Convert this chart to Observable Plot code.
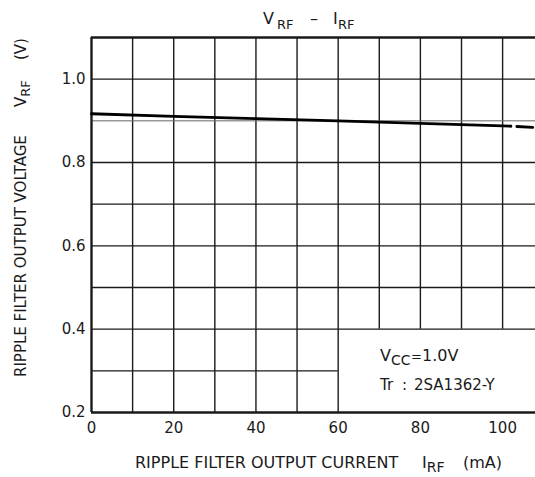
<!DOCTYPE html>
<html><head><meta charset="utf-8">
<script src="https://cdn.jsdelivr.net/npm/d3@7"></script>
<script src="https://cdn.jsdelivr.net/npm/@observablehq/plot@0.6"></script>
<style>
body{margin:0;background:#fff;}
svg{display:block;}
</style>
</head><body><div id="chart"></div>
<script>
// Measured curve (solid part)
const currents = [0, 20, 40, 60, 80, 100, 102];
const voltages = [0.917, 0.9105, 0.9055, 0.900, 0.894, 0.888, 0.8872];
// Extrapolated (dashed) part
const dashCurrents = [102, 108];
const dashVoltages = [0.8872, 0.884];

const xTicks = [0, 20, 40, 60, 80, 100];
const yTicks = [0.2, 0.4, 0.6, 0.8, 1.0];
const xGridFull = [10, 20, 30, 40, 50, 60];
const xGridShort = [70, 80, 90, 100];
const yGridFull = [0.4, 0.5, 0.6, 0.7, 0.8, 1.0];
const yGridLight = [0.9];
const yGridShort = [0.3];

const xMin = 0, xMax = 108, yMin = 0.2, yMax = 1.1, legendTop = 0.4, legendLeft = 60;

const solid = currents.map((c, i) => ({c, v: voltages[i]}));
const dashed = dashCurrents.map((c, i) => ({c, v: dashVoltages[i]}));

const ink = "#1a1a1a";
const font = "'DejaVu Sans', sans-serif";

const svg = Plot.plot({
  width: 535,
  height: 477,
  marginLeft: 91,
  marginRight: 0,
  marginTop: 37,
  marginBottom: 65,
  style: {fontFamily: font, fontSize: "15px", color: ink, background: "#fff"},
  x: {domain: [xMin, xMax], ticks: xTicks, tickSize: 0, tickPadding: 10, label: null},
  y: {domain: [yMin, yMax], ticks: yTicks, tickSize: 0, tickPadding: 6, tickFormat: d3.format(".1f"), label: null},
  marks: [
    Plot.ruleX(xGridFull, {y1: yMin, y2: yMax, stroke: ink, strokeWidth: 1.4}),
    Plot.ruleX(xGridShort, {y1: legendTop, y2: yMax, stroke: ink, strokeWidth: 1.4}),
    Plot.ruleY(yGridFull, {x1: xMin, x2: xMax, stroke: ink, strokeWidth: 1.4}),
    Plot.ruleY(yGridLight, {x1: xMin, x2: xMax, stroke: "#666", strokeWidth: 1}),
    Plot.ruleY(yGridShort, {x1: xMin, x2: legendLeft, stroke: ink, strokeWidth: 1.4}),
    Plot.ruleX([xMin], {y1: yMin, y2: yMax, stroke: ink, strokeWidth: 2.4}),
    Plot.ruleY([yMin, yMax], {x1: xMin, x2: xMax, stroke: ink, strokeWidth: 2.4}),
    Plot.line(solid, {x: "c", y: "v", stroke: "#000", strokeWidth: 2.8}),
    Plot.line(dashed, {x: "c", y: "v", stroke: "#000", strokeWidth: 2.8, strokeDasharray: "0 6 16 40"})
  ]
});

document.getElementById("chart").appendChild(svg);

const s = d3.select(svg);
function label(parent, attrs) {
  const t = parent.append("text").attr("font-family", font).attr("fill", ink)
    .attr("text-anchor", "start").style("white-space", "pre");
  for (const k in attrs) t.attr(k, attrs[k]);
  return t;
}
// Title
const t = label(s, {y: 24, "font-size": 16});
t.append("tspan").attr("x", 263).text("V");
t.append("tspan").attr("x", 277).attr("dy", 5).attr("font-size", 13).text("RF");
t.append("tspan").attr("x", 310).attr("dy", -5).text("–");
t.append("tspan").attr("x", 333).text("I");
t.append("tspan").attr("x", 338).attr("dy", 5).attr("font-size", 13).text("RF");

// Y label (rotated)
const yl = label(s, {transform: "translate(26,377) rotate(-90)", "font-size": 15});
yl.append("tspan").attr("x", 0).text("RIPPLE FILTER OUTPUT VOLTAGE");
yl.append("tspan").attr("x", 270).text("V");
yl.append("tspan").attr("dy", 4).attr("font-size", 13).text("RF");
yl.append("tspan").attr("x", 317).attr("dy", -4).text("(V)");

// X label
const xl = label(s, {y: 468, "font-size": 16});
xl.append("tspan").attr("x", 135).text("RIPPLE FILTER OUTPUT CURRENT");
xl.append("tspan").attr("x", 422).text("I");
xl.append("tspan").attr("dy", 4).attr("font-size", 14).text("RF");
xl.append("tspan").attr("x", 463).attr("dy", -4).text("(mA)");

// Conditions
const l1 = label(s, {y: 361, "font-size": 16});
l1.append("tspan").attr("x", 380).text("V");
l1.append("tspan").attr("dy", 4).attr("font-size", 14).text("CC");
l1.append("tspan").attr("x", 411).attr("dy", -4).attr("font-size", 13).text("=");
l1.append("tspan").attr("x", 422).attr("font-size", 16).text("1.0V");
const l2 = label(s, {y: 390, "font-size": 15});
l2.append("tspan").attr("x", 380).text("Tr");
l2.append("tspan").attr("x", 402).text(":");
l2.append("tspan").attr("x", 414).text("2SA1362-Y");
</script>
</body></html>
